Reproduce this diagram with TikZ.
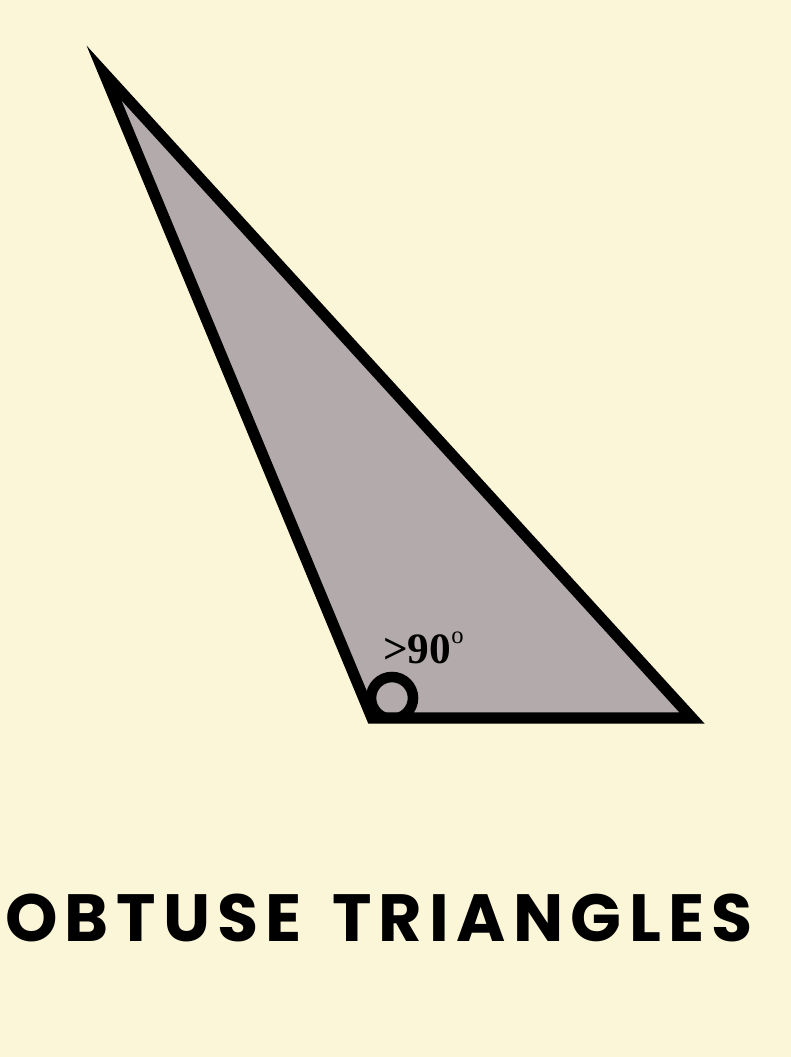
\documentclass[tikz,border=0pt]{standalone}
\usepackage{fontspec}
\setmainfont{Liberation Serif}
\newfontfamily\titlefont[LetterSpace=11,WordSpace=1.4]{Poppins}
\usepackage{tikz}
\usetikzlibrary{calc}
\definecolor{paper}{RGB}{252,246,216}
\definecolor{trigray}{RGB}{179,171,171}

\begin{document}
\begin{tikzpicture}[x=0.03cm, y=-0.03cm, line join=miter]
    % Page
    \fill[paper] (0,0) rectangle (791,1057);
    \useasboundingbox (0,0) rectangle (791,1057);

    % Vertices
    \coordinate (A) at (104,73);
    \coordinate (B) at (372,718);
    \coordinate (C) at (692,718);

    % Triangle body
    \fill[trigray] (A) -- (B) -- (C) -- cycle;

    % Obtuse angle mark
    \begin{scope}
        \clip (A) -- (B) -- (C) -- cycle;
        \draw[line width=9pt] (392,698) circle (21);
    \end{scope}

    % Outline
    \draw[line width=9.5pt] (A) -- (B) -- (C) -- cycle;

    % Angle label
    \node[anchor=base west, inner sep=0pt, font=\fontsize{37}{40}\selectfont\bfseries]
        (lbl) at (383,663) {>90\raisebox{0.45em}{\fontsize{21}{23}\selectfont\mdseries o}};

    % Title
    \node[inner sep=0pt, font=\titlefont\bfseries\fontsize{57}{60}\selectfont]
        (title) at (379,918) {OBTUSE TRIANGLES};
\end{tikzpicture}
\end{document}
